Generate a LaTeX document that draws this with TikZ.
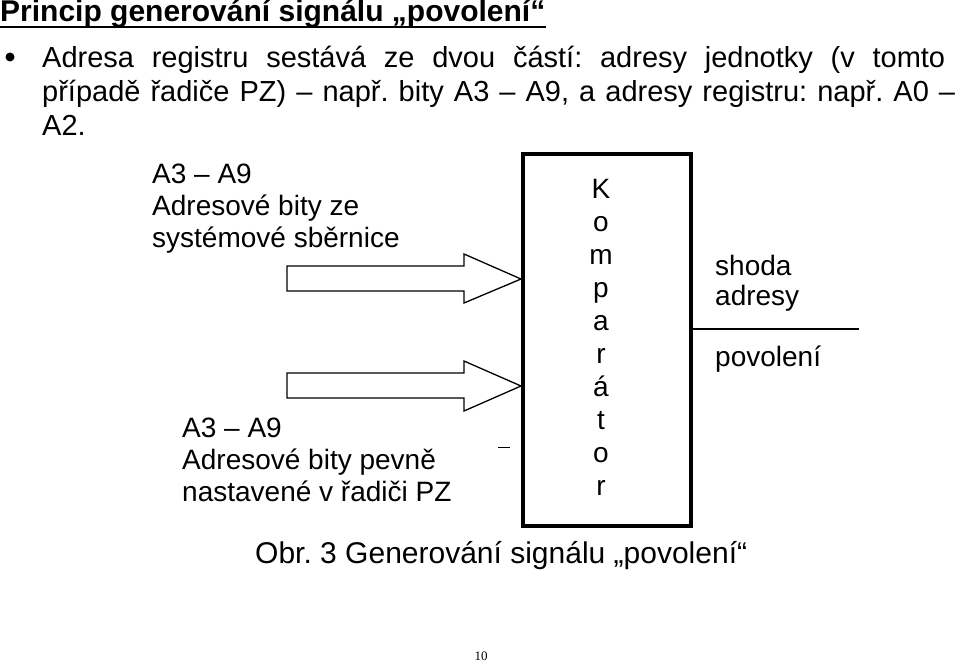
\documentclass[tikz,border=0pt]{standalone}
\usepackage{fontspec}
\setmainfont{Liberation Sans}
\newfontfamily\pagenumfont{Liberation Serif}
\frenchspacing
\tikzset{
  txt/.style={anchor=base west, inner sep=0pt, font=\fontsize{29}{32}\selectfont},
  dtxt/.style={anchor=base west, inner sep=0pt, font=\fontsize{28}{32}\selectfont},
  letter/.style={anchor=base, inner sep=0pt, font=\fontsize{28}{32}\selectfont},
  blockarrow/.style={draw, line width=1.3pt, fill=white, line join=miter},
  compbox/.style={draw, line width=4pt, inner sep=0pt, minimum width=168pt, minimum height=372pt},
}
\begin{document}
\begin{tikzpicture}[x=1pt,y=-1pt]
\useasboundingbox (0,0) rectangle (960,661);
% title
\node[anchor=base west, inner sep=0pt, font=\fontsize{30}{32}\bfseries\selectfont] (title) at (0,22) {Princip generování signálu „povolení“};
\draw[line width=2pt] ([yshift=-5pt]title.base west) -- ([yshift=-5pt]title.base east);
% bullet paragraph
\fill (10,57) circle[radius=4.5pt];
\node[txt] (l1) at (42,67) {\makebox[903pt][s]{Adresa registru sestává ze dvou částí: adresy jednotky (v tomto}};
\node[txt] (l2) at (42,101) {\makebox[913pt][s]{případě řadiče PZ) – např. bity A3 – A9, a adresy registru: např. A0 –}};
\node[txt] (l3) at (42,135) {A2.};
% comparator
\node[compbox] (komp) at (607,340) {};
\foreach \ch [count=\i from 0] in {K,o,m,p,a,r,á,t,o,r}{
  \node[letter] (c\i) at (601,{198+33*\i}) {\ch};
}
% input texts
\node[dtxt] (a1) at (152,183) {A3 – A9};
\node[dtxt] (a2) at (152,215) {Adresové bity ze};
\node[dtxt] (a3) at (152,247) {systémové sběrnice};
\node[dtxt] (b1) at (182,437) {A3 – A9};
\node[dtxt] (b2) at (182,469) {Adresové bity pevně};
\node[dtxt] (b3) at (182,501) {nastavené v řadiči PZ};
% block arrows
\draw[blockarrow] (287,266) -- (464,266) -- (464,254) -- (komp.west |- 0,279) -- (464,303) -- (464,291) -- (287,291) -- cycle;
\draw[blockarrow] (287,373) -- (464,373) -- (464,361) -- (komp.west |- 0,386) -- (464,411) -- (464,398) -- (287,398) -- cycle;
% small dash
\coordinate (d1) at (498,447);
\coordinate (d2) at (510,447);
\draw[line width=0.8pt] (d1) -- (d2);
% output
\coordinate (out) at (859,329);
\draw[line width=1.3pt] (komp.east |- out) -- (out);
\node[dtxt] (s1) at (715,275) {shoda};
\node[dtxt] (s2) at (715,305) {adresy};
\node[dtxt] (s3) at (715,366) {povolení};
% caption
\node[anchor=base west, inner sep=0pt, font=\fontsize{30}{32}\selectfont] (cap) at (255,563) {Obr. 3 Generování signálu „povolení“};
% page number
\node[anchor=base, inner sep=0pt, font=\pagenumfont\fontsize{13}{15}\selectfont] (pg) at (481,660) {10};
\end{tikzpicture}
\end{document}
